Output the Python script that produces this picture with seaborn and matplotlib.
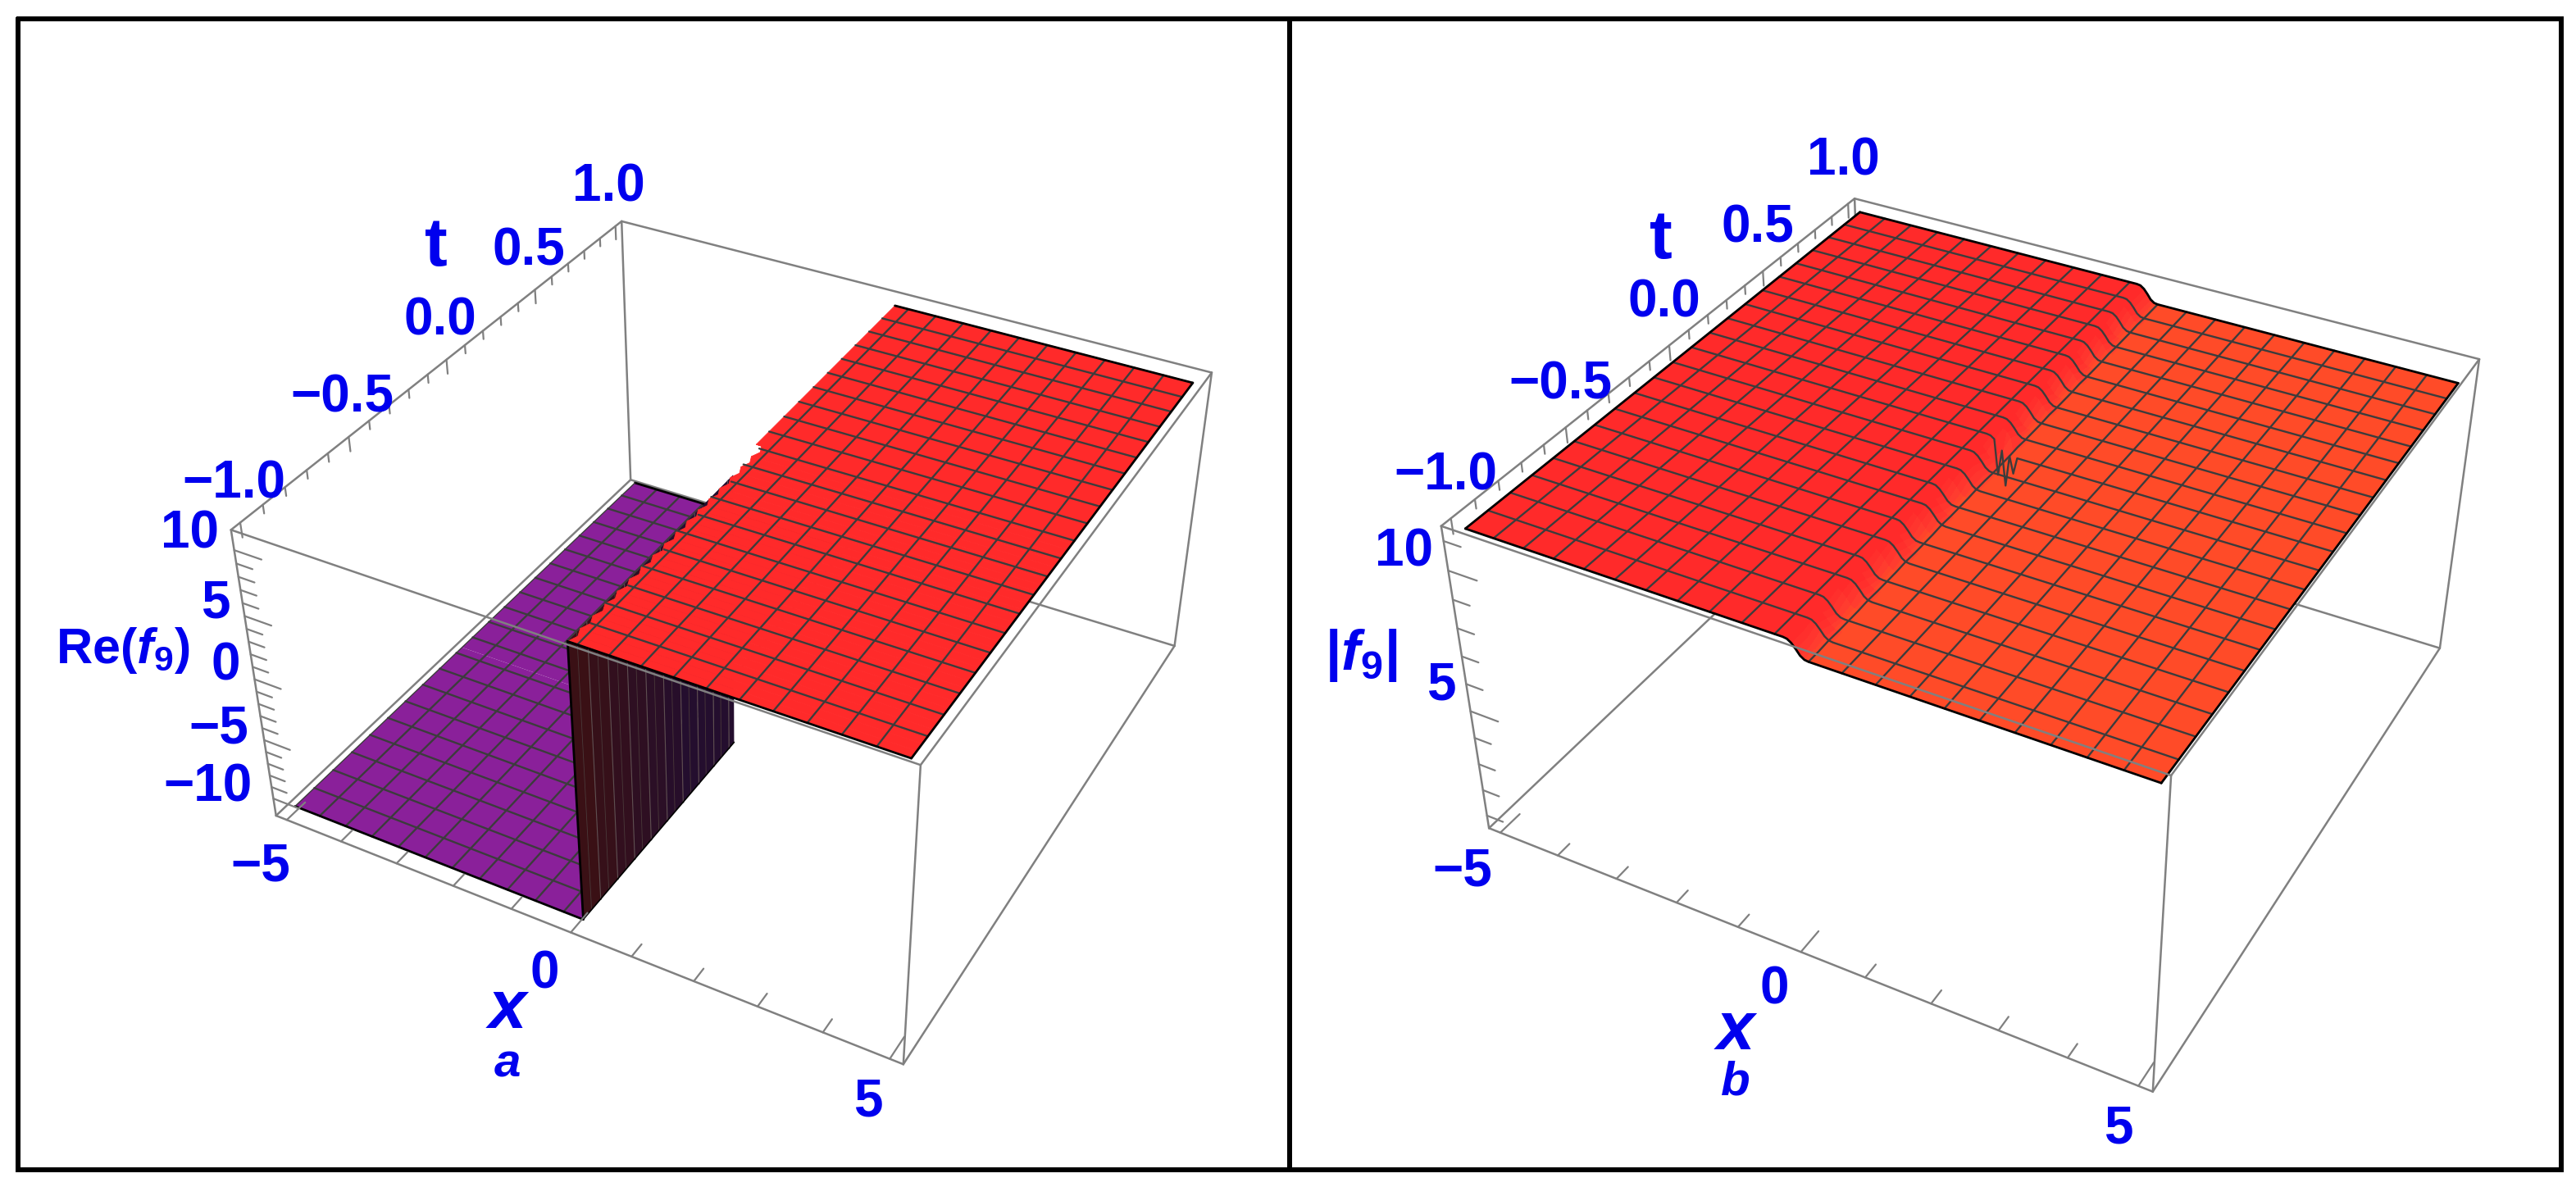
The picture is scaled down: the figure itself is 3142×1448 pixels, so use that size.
# plot.py
"""
Two Mathematica-style 3D surfaces of f9: Re(f9) (a) and |f9| (b).
"""

import numpy as np
import matplotlib
matplotlib.use("Agg")
import matplotlib.pyplot as plt
import seaborn as sns
from matplotlib.lines import Line2D
from mpl_toolkits.mplot3d import proj3d

W, H = 3142, 1448

# ---------------------------------------------------------------------------
# Data
# ---------------------------------------------------------------------------

# mesh lines of both surfaces (21 cells each way)
x_mesh = [-5.0, -4.524, -4.048, -3.571, -3.095, -2.619, -2.143, -1.667, -1.19, -0.714, -0.238,
          0.238, 0.714, 1.19, 1.667, 2.143, 2.619, 3.095, 3.571, 4.048, 4.524, 5.0]
t_mesh = [-1.0, -0.905, -0.81, -0.714, -0.619, -0.524, -0.429, -0.333, -0.238, -0.143, -0.048,
          0.048, 0.143, 0.238, 0.333, 0.429, 0.524, 0.619, 0.714, 0.81, 0.905, 1.0]

# panel a: two flat levels and the jagged edge of the upper one
re_low = -10.95
re_high = 10.93
edge_t = [-1.0, -0.9688, -0.9375, -0.9063, -0.875, -0.8438, -0.8125, -0.7813,
          -0.75, -0.7188, -0.6875, -0.6563, -0.625, -0.5938, -0.5625, -0.5313,
          -0.5, -0.4688, -0.4375, -0.4063, -0.375, -0.3438, -0.3125, -0.2813,
          -0.25, -0.2188, -0.1875, -0.1563, -0.125, -0.0938, -0.0625, -0.0313,
          0.0, 0.0313, 0.0625, 0.0635, 1.0]
edge_x = [0.09, 0.15, 0.09, 0.15, 0.09, 0.15, 0.09, 0.15,
          0.09, 0.15, 0.09, 0.15, 0.09, 0.15, 0.09, 0.15,
          0.09, 0.15, 0.09, 0.15, 0.09, 0.15, 0.09, 0.15,
          0.09, 0.15, 0.09, 0.15, 0.09, 0.15, 0.09, 0.15,
          0.09, 0.15, 0.09, 0.0, 0.0]
wall_t = [-1.0, -0.905, -0.81, -0.714, -0.619, -0.524, -0.429, -0.333, -0.238, -0.143, -0.11]
# lower level: right edge before and after the end of the wall
low_t = [-1.0, -0.11, -0.11, 0.998]
low_x = [0.09, 0.09, -0.9, -0.9]

# panel b: the two levels and the step between them, column by column
abs_left = 11.31
abs_right = 10.77
step_x = [-0.714, -0.655, -0.595, -0.536, -0.476, -0.417, -0.357, -0.298, -0.238,
          -0.179, -0.119, -0.06, 0.0, 0.06, 0.119, 0.179, 0.238, 0.298, 0.357,
          0.417, 0.476, 0.536, 0.595, 0.655, 0.714]
step_z = [11.31, 11.29, 11.2, 11.05, 10.88, 10.79, 10.77]
# ridge column (index into step_x) for each of the 43 rows in t
ridge_col = [13, 13, 14, 13, 12, 13, 14, 13, 12, 13, 14, 13, 12, 13, 14, 13, 12, 13, 14, 14, 13,
             12, 13, 14, 13, 12, 13, 14, 13, 12, 13, 14, 13, 12, 13, 14, 13, 12, 13, 14, 13, 13, 13]
# narrow dips in the step near t = 0
spike_row = [22, 22, 22, 21, 23]
spike_col = [13, 15, 17, 15, 15]
spike_z = [10.0, 9.7, 10.2, 10.4, 10.4]

# ticks
x_major = [-5, 0, 5]
x_minor = [-4, -3, -2, -1, 1, 2, 3, 4]
t_major = [-1.0, -0.5, 0.0, 0.5, 1.0]
t_minor = [-0.9, -0.8, -0.7, -0.6, -0.4, -0.3, -0.2, -0.1,
           0.1, 0.2, 0.3, 0.4, 0.6, 0.7, 0.8, 0.9]
za_major = [-10, -5, 0, 5, 10]
za_minor = [-9, -8, -7, -6, -4, -3, -2, -1, 1, 2, 3, 4, 6, 7, 8, 9]
zb_major = [5, 10]
zb_minor = [1, 2, 3, 4, 6, 7, 8, 9, 11]

x_labels = ["\u22125", "0", "5"]
t_labels = ["\u22121.0", "\u22120.5", "0.0", "0.5", "1.0"]
za_labels = ["\u221210", "\u22125", "0", "5", "10"]
zb_labels = ["5", "10"]

# ---------------------------------------------------------------------------
# Style
# ---------------------------------------------------------------------------

BLUE = "#0000EE"
BOX = "#808080"
MESH = "#3C3C3C"
PURPLE = "#8A209A"
RED = "#FF2A2A"
ORANGE = "#FF4B28"

X_LIM = (-5.2, 5.2)
T_LIM = (-1.04, 1.04)
ZA_LIM = (-11.5, 11.5)
ZB_LIM = (0.5, 11.5)

sns.set_theme(style="white", font="Liberation Sans")
plt.rcParams["font.weight"] = "bold"
plt.rcParams["mathtext.fontset"] = "custom"
plt.rcParams["mathtext.bf"] = "Liberation Sans:bold"
plt.rcParams["mathtext.bfit"] = "Liberation Sans:italic:bold"
plt.rcParams["mathtext.rm"] = "Liberation Sans:bold"

fig = plt.figure(figsize=(W / 100, H / 100), dpi=100)
fig.patch.set_facecolor("white")


def px_text(x, y, s, size, style="normal"):
    fig.text(x / W, 1 - y / H, s, color=BLUE, fontsize=size, fontweight="bold",
             fontstyle=style, ha="center", va="center")


def make_axes(view, scale, tx, ty, zlim):
    elev, azim, roll, focal, by, bz = view
    ax = fig.add_axes([0, 0, 1, 1], projection="3d", computed_zorder=False)
    ax.view_init(elev, azim, roll)
    ax.set_proj_type("persp", focal_length=focal)
    ax.set_box_aspect((1, by, bz))
    ax.set_autoscale_on(False)
    ax.set_xlim(*X_LIM)
    ax.set_ylim(*T_LIM)
    ax.set_zlim(*zlim)
    ax.set_axis_off()
    ax.patch.set_alpha(0)
    vl = ax.viewLim
    left = tx + scale * vl.x0
    top = ty - scale * vl.y1
    side = scale * (vl.x1 - vl.x0)
    ax.set_position([left / W, 1 - (top + side) / H, side / W, side / H])
    return ax


def draw_line(ax, xs, ts, zs, color=MESH, lw=1.7, z=3):
    ax.plot(xs, ts, zs, color=color, lw=lw, zorder=z, clip_on=False,
            solid_capstyle="round")


def draw_box(ax, zlim):
    x0, x1 = X_LIM
    t0, t1 = T_LIM
    z0, z1 = zlim
    back = [
        ([x0, x0], [t0, t1], [z0, z0]), ([x0, x1], [t1, t1], [z0, z0]),
        ([x0, x0], [t1, t1], [z0, z1]), ([x1, x1], [t1, t1], [z0, z1]),
    ]
    front = [
        ([x0, x1], [t0, t0], [z0, z0]), ([x1, x1], [t0, t1], [z0, z0]),
        ([x0, x0], [t0, t0], [z0, z1]), ([x1, x1], [t0, t0], [z0, z1]),
        ([x0, x1], [t0, t0], [z1, z1]), ([x1, x1], [t0, t1], [z1, z1]),
        ([x0, x0], [t0, t1], [z1, z1]), ([x0, x1], [t1, t1], [z1, z1]),
    ]
    for xs, ts, zs in back:
        draw_line(ax, xs, ts, zs, color=BOX, lw=1.8, z=1)
    for xs, ts, zs in front:
        draw_line(ax, xs, ts, zs, color=BOX, lw=1.8, z=20)


def draw_ticks(ax, zlim, z_major, z_minor):
    x0 = X_LIM[0]
    t0 = T_LIM[0]
    z0, z1 = zlim
    zspan = 23.0
    for vals, dt in ((x_major, 0.09), (x_minor, 0.055)):
        for v in vals:
            draw_line(ax, [v, v], [t0, t0 + dt], [z0, z0], color=BOX, lw=1.6, z=21)
    dz_major = 1.1 * (z1 - z0) / zspan
    dz_minor = 0.65 * (z1 - z0) / zspan
    for vals, dz in ((t_major, dz_major), (t_minor, dz_minor)):
        for v in vals:
            draw_line(ax, [x0, x0], [v, v], [z1, z1 - dz], color=BOX, lw=1.6, z=21)
    for vals, dx in ((z_major, 0.47), (z_minor, 0.28)):
        for v in vals:
            draw_line(ax, [x0, x0 + dx], [t0, t0], [v, v], color=BOX, lw=1.6, z=21)


def tick_label(ax, x, t, z, s, off, size=46):
    u, v, _ = proj3d.proj_transform(x, t, z, ax.get_proj())
    ax.annotate(s, xy=(u, v), xycoords="data", xytext=(off[0], -off[1]),
                textcoords="offset pixels", color=BLUE, fontsize=size,
                fontweight="bold", ha="center", va="center",
                annotation_clip=False, zorder=30)


def draw_tick_labels(ax, zlim, z_major, z_labels, off_x, off_t, off_z):
    x0 = X_LIM[0]
    t0 = T_LIM[0]
    z1 = zlim[1]
    for v, s, off in zip(x_major, x_labels, off_x):
        tick_label(ax, v, t0, zlim[0], s, off)
    for v, s in zip(t_major, t_labels):
        tick_label(ax, x0, v, z1, s, off_t)
    for v, s, off in zip(z_major, z_labels, off_z):
        tick_label(ax, x0, t0, v, s, off)


# ---------------------------------------------------------------------------
# Panel a
# ---------------------------------------------------------------------------

def draw_panel_a():
    ax = make_axes((36.183, -61.538, 0.0, 0.431, 1.0, 0.501), 6627.2, 909.8, 723.6, ZA_LIM)
    draw_box(ax, ZA_LIM)

    # purple lower level
    lt = np.array(low_t)
    lx = np.array(low_x)
    xp = np.column_stack([np.full_like(lx, -4.98), lx])
    tp = np.column_stack([lt, lt])
    ax.plot_surface(xp, tp, np.full_like(xp, re_low), color=PURPLE, shade=False,
                    rstride=1, cstride=1, linewidth=0, zorder=2)
    for x in x_mesh[1:10]:
        draw_line(ax, [x, x], [-1, 0.998], [re_low, re_low], z=3)
    draw_line(ax, [-0.238, -0.238], [-1, low_t[1]], [re_low, re_low], z=3)
    for t in t_mesh[1:-1]:
        right = low_x[0] if t < low_t[1] else low_x[-1]
        draw_line(ax, [-4.98, right], [t, t], [re_low, re_low], z=3)
    draw_line(ax, [-4.98, 0.09], [-1, -1], [re_low, re_low], color="black", lw=2, z=3)
    draw_line(ax, [-4.98, low_x[-1]], [0.998, 0.998], [re_low, re_low], color="black", lw=2, z=3)
    draw_line(ax, [-4.98, -4.98], [-1, 0.998], [re_low, re_low], color=MESH, lw=1, z=3)

    # wall between the levels
    wt = np.array(wall_t)
    xw = np.full((len(wt), 2), 0.09)
    tw = np.column_stack([wt, wt])
    zw = np.tile([re_low, re_high], (len(wt), 1))
    shades = sns.blend_palette(["#3A1015", "#2E0F22", "#240E2E", "#240E2E"],
                               n_colors=len(wt) - 1)
    faces = np.array([[list(c) + [1.0]] for c in shades])
    ax.plot_surface(xw, tw, zw, facecolors=faces, shade=False, rstride=1, cstride=1,
                    linewidth=0, zorder=4)
    for t in wall_t[1:-1]:
        draw_line(ax, [0.09, 0.09], [t, t], [re_low, re_high], color="#5E5050", lw=0.8, z=5)
        draw_line(ax, [0.09, 0.09], [t - 0.05, t - 0.05], [re_low, re_high], color="#4A3A3A", lw=0.6, z=5)
    draw_line(ax, [0.09, 0.09], [-1, -1], [re_low, re_high], color="black", lw=2, z=5)
    draw_line(ax, [0.09, 0.09], [-1, wall_t[-1]], [re_low, re_low], color="black", lw=1.2, z=5)

    # red upper level
    et = np.array(edge_t)
    ex = np.array(edge_x)
    xr = np.column_stack([ex, np.full_like(ex, 4.99)])
    tr = np.column_stack([et, et])
    ax.plot_surface(xr, tr, np.full_like(xr, re_high), color=RED, edgecolor=RED, shade=False,
                    rstride=1, cstride=1, linewidth=0.6, zorder=6)
    for x in x_mesh[11:-1]:
        draw_line(ax, [x, x], [-1, 0.998], [re_high, re_high], z=7)
    for t in t_mesh[1:-1]:
        start = ex[np.argmin(np.abs(et - t))]
        draw_line(ax, [start, 4.99], [t, t], [re_high, re_high], z=7)
    draw_line(ax, [0.09, 4.99], [-1, -1], [re_high, re_high], color="black", lw=2, z=7)
    draw_line(ax, [0.0, 4.99], [0.998, 0.998], [re_high, re_high], color="black", lw=2, z=7)
    draw_line(ax, [4.99, 4.99], [-1, 0.998], [re_high, re_high], color="black", lw=2, z=7)

    draw_ticks(ax, ZA_LIM, za_major, za_minor)
    draw_tick_labels(ax, ZA_LIM, za_major, za_labels,
                     [(-32, 57), (-32, 51), (-26, 53)], (-8, -47),
                     [(-80, -14), (-55, -13), (-35, -16), (-36, -15), (-54, -20)])

    px_text(532, 302, "t", 60)
    px_text(150, 793, r"$\mathbf{Re(}\mathbfit{f}_{\mathbf{9}}\mathbf{)}$", 44)
    px_text(619, 1232, "x", 60, "italic")
    px_text(619, 1298, "a", 42, "italic")


# ---------------------------------------------------------------------------
# Panel b
# ---------------------------------------------------------------------------

def draw_panel_b():
    ax = make_axes((36.27, -61.539, 0.0, 0.431, 1.0, 0.501), 7014.5, 2422.6, 723.0, ZB_LIM)
    draw_box(ax, ZB_LIM)

    nodes = np.array(x_mesh[:9] + step_x + x_mesh[13:])
    rows = np.linspace(-1.0, 0.998, 43)
    offset = 9

    half = (len(step_z) - 1) // 2
    zz = np.zeros((len(rows), len(nodes)))
    for i, rc in enumerate(ridge_col):
        c = rc + offset
        for j in range(len(nodes)):
            if j < c - half:
                zz[i, j] = abs_left
            elif j > c + half:
                zz[i, j] = abs_right
            else:
                zz[i, j] = step_z[j - c + half]
    for i, j, v in zip(spike_row, spike_col, spike_z):
        zz[i, j + offset] = v

    xx, tt = np.meshgrid(nodes, rows)
    xx = np.where(xx < -4.9, -4.98, xx)
    ramp = sns.blend_palette([RED, RED, "#FF3A30", ORANGE], n_colors=len(step_z) + 1)
    faces = np.zeros((len(rows) - 1, len(nodes) - 1, 4))
    for i in range(len(rows) - 1):
        c = ridge_col[i] + offset
        for j in range(len(nodes) - 1):
            k = min(max(j - c + half + 1, 0), len(step_z))
            faces[i, j] = list(ramp[k]) + [1.0]
    ax.plot_surface(xx, tt, zz, facecolors=faces, shade=False, rstride=1, cstride=1,
                    linewidth=0, zorder=2, antialiased=False)

    # mesh lines: every second row, every mesh column
    for i in range(2, len(rows) - 2, 2):
        draw_line(ax, xx[i], tt[i], zz[i], z=3)
    for x in x_mesh[1:-1]:
        j = int(np.argmin(np.abs(nodes - x)))
        draw_line(ax, xx[:, j], tt[:, j], zz[:, j], z=3)
    draw_line(ax, xx[0], tt[0], zz[0], color="black", lw=2, z=3)
    draw_line(ax, xx[-1], tt[-1], zz[-1], color="black", lw=2, z=3)
    draw_line(ax, xx[:, 0], tt[:, 0], zz[:, 0], color="black", lw=2, z=3)
    draw_line(ax, xx[:, -1], tt[:, -1], zz[:, -1], color="black", lw=2, z=3)

    draw_ticks(ax, ZB_LIM, zb_major, zb_minor)
    draw_tick_labels(ax, ZB_LIM, zb_major, zb_labels,
                     [(-46, 48), (-32, 46), (-24, 53)], (-6, -52),
                     [(-36, -31), (-54, -23)])

    px_text(2026, 293, "t", 60)
    px_text(1660, 800, r"$\mathbf{|}\mathbfit{f}_{\mathbf{9}}\mathbf{|}$", 50)
    px_text(2117, 1258, "x", 60, "italic")
    px_text(2117, 1320, "b", 42, "italic")


# ---------------------------------------------------------------------------
# Main
# ---------------------------------------------------------------------------

def draw_frame():
    lw = 6 * 72 / 100
    coords = [
        ([22, 3124, 3124, 22, 22], [23, 23, 1427, 1427, 23]),
        ([1573, 1573], [23, 1427]),
    ]
    for xs, ys in coords:
        fig.add_artist(Line2D(np.array(xs) / W, 1 - np.array(ys) / H, color="black",
                              lw=lw, solid_joinstyle="miter",
                              transform=fig.transFigure, zorder=50))


draw_panel_a()
draw_panel_b()
draw_frame()
fig.savefig("out.png", dpi=100)
